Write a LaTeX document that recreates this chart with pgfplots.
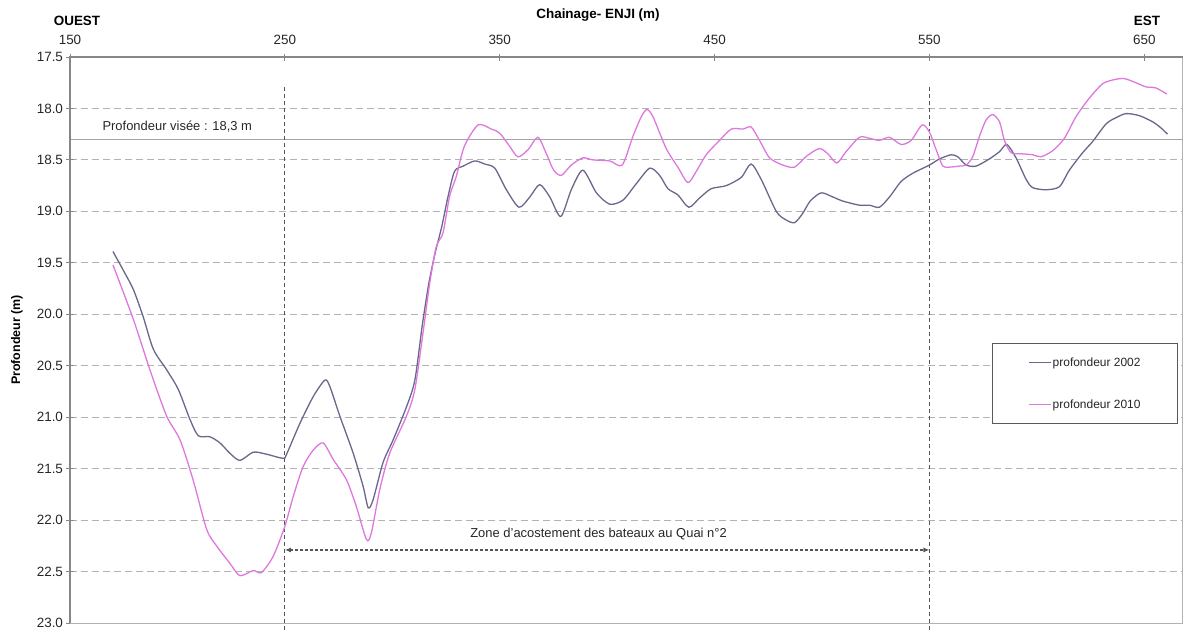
\documentclass[border=0pt]{standalone}
\usepackage{fontspec}
\setmainfont{Liberation Sans}
\usepackage{pgfplots}
\pgfplotsset{compat=1.18}
\usetikzlibrary{arrows.meta}

\definecolor{c2002}{RGB}{104,104,138}
\definecolor{c2010}{RGB}{222,120,222}
\definecolor{gridc}{RGB}{178,178,178}
\definecolor{axisc}{RGB}{135,135,135}
\definecolor{markc}{RGB}{85,85,85}

\begin{document}
\begin{tikzpicture}
\path[use as bounding box] (0,0) rectangle (1186bp,630bp);
\begin{axis}[
  at={(70bp,7bp)}, anchor=south west,
  scale only axis, width=1113bp, height=566bp,
  xmin=150, xmax=668, ymin=17.5, ymax=23, y dir=reverse,
  clip=false,
  xtick={150,250,350,450,550,650},
  ytick={17.5,18,...,23},
  xtick pos=right, xticklabel pos=right, ytick pos=left,
  tick align=center, major tick length=7bp,
  tick style={axisc, line width=1bp},
  axis line style={gridc, line width=1bp},
  ymajorgrids,
  major grid style={gridc, line width=1bp, dash pattern=on 7bp off 4bp},
  /pgf/number format/assume math mode=true,
  yticklabel style={/pgf/number format/.cd, fixed, fixed zerofill, precision=1},
  xticklabel style={yshift=5bp, /pgf/number format/.cd, fixed, precision=0},
  ticklabel style={font=\fontsize{13.5}{15}\selectfont, text=black!85},
  legend style={at={(axis description cs:0.9955,0.495)}, anchor=north east,
    draw=black!65, line width=1bp, fill=white,
    font=\fontsize{12}{14}\selectfont, text=black!85,
    inner xsep=36bp, inner ysep=13bp, row sep=30bp,
    nodes={inner sep=1bp}},
  legend cell align=left,
  legend image code/.code={\draw[#1] (0bp,0bp) -- (22bp,0bp);},
]

% target depth line
\addplot[black!35, line width=1bp, forget plot] coordinates {(150,18.3) (668,18.3)};

% boundaries of the berthing zone
\draw[markc, line width=1bp, dash pattern=on 4bp off 3bp] (axis cs:250,17.79) -- (axis cs:250,23.07);
\draw[markc, line width=1bp, dash pattern=on 4bp off 3bp] (axis cs:550,17.79) -- (axis cs:550,23.07);
\draw[markc, line width=1.2bp, dash pattern=on 3bp off 2bp,
  {Latex[length=6bp,width=5bp]}-{Latex[length=6bp,width=5bp]}]
  (axis cs:250,22.29) -- (axis cs:550,22.29);

\node[anchor=west, font=\fontsize{13}{15}\selectfont, text=black!85] at (axis cs:163.5,18.18) {Profondeur visée : 18,3 m};
\node[font=\fontsize{13}{15}\selectfont, text=black!85] at (axis cs:396,22.14) {Zone d'acostement des bateaux au Quai n°2};

\addplot[c2002, line width=1.3bp, smooth, tension=0.45] coordinates {
(170,19.39) (175,19.58) (179.5,19.76) (184,20.02) (188.8,20.34) (195,20.54)
(200.4,20.73) (205.8,21.02) (209.7,21.18) (215.1,21.19) (219.8,21.25)
(224.4,21.35) (229.1,21.42) (235.3,21.34) (241.5,21.36) (249.2,21.40)
(250.8,21.36) (257,21.06) (263.2,20.80) (268.6,20.64) (270.9,20.70)
(275.6,20.99) (281.8,21.35) (286.4,21.67) (288.8,21.88) (291.1,21.80)
(295.7,21.44) (300.4,21.22) (306.6,20.90) (310.5,20.64) (314,20.10)
(317,19.70) (320,19.40) (323,19.15) (326,18.85) (329,18.61) (333,18.56)
(338.4,18.51) (343,18.54) (347.7,18.58) (353.1,18.79) (359,18.96)
(364,18.86) (368.6,18.74) (373.3,18.86) (378.4,19.05) (383.3,18.79)
(388.7,18.60) (395,18.82) (401.2,18.93) (407.4,18.89) (413.6,18.73)
(419.8,18.58) (424.4,18.65) (428.3,18.78) (432.9,18.84) (438,18.96)
(443,18.87) (448.4,18.78) (455.4,18.75) (462.4,18.67) (467,18.54)
(471.7,18.69) (478.7,19.00) (483,19.08) (487.2,19.11) (491,19.02)
(494.5,18.90) (499.6,18.82) (505,18.86) (509.7,18.90) (517.4,18.94)
(522.1,18.94) (526.7,18.96) (531.4,18.86) (536.8,18.71) (542.2,18.63)
(550,18.55) (554.7,18.49) (560.1,18.45) (563.2,18.47) (567.1,18.55)
(571.7,18.56) (577.9,18.49) (582.6,18.42) (586,18.35) (590.3,18.48)
(595,18.69) (598.1,18.77) (604.3,18.79) (610.5,18.76) (615.1,18.60)
(621.3,18.43) (626,18.32) (632.2,18.15) (636.8,18.09) (641.5,18.05)
(647.7,18.07) (653.9,18.13) (657.8,18.19) (660.8,18.25)
};
\addlegendentry{profondeur 2002}

\addplot[c2010, line width=1.3bp, smooth, tension=0.45] coordinates {
(170,19.52) (179.5,20.05) (187.2,20.54) (195,20.99) (201.2,21.22)
(207.3,21.61) (213.6,22.09) (218.2,22.25) (224.4,22.42) (229.1,22.54)
(235.3,22.49) (239.1,22.51) (244.6,22.35) (250,22.06) (253.9,21.77)
(258.5,21.48) (263.2,21.32) (267.8,21.25) (272.5,21.41) (278.7,21.61)
(283.3,21.87) (288,22.19) (290.3,22.12) (294.2,21.70) (298.8,21.35)
(306.6,20.99) (310.5,20.73) (314.3,20.18) (317.4,19.70) (320.5,19.34)
(323.6,19.21) (326.7,18.85) (329.8,18.66) (333.5,18.37) (339.9,18.16)
(346.1,18.20) (350,18.24) (354.7,18.37) (358.5,18.47) (363.2,18.40)
(367.8,18.28) (371.7,18.44) (375.1,18.60) (378.7,18.65) (383.3,18.55)
(388.7,18.48) (393.4,18.50) (401.2,18.51) (407,18.55) (412,18.27)
(415.9,18.08) (418.5,18.01) (421.3,18.08) (427.5,18.39) (432.9,18.57)
(437.6,18.72) (441.5,18.61) (446.1,18.45) (452.3,18.31) (457.8,18.20)
(463.2,18.20) (467,18.18) (470.9,18.31) (475.6,18.48) (481.8,18.55)
(487.2,18.57) (493,18.46) (498.8,18.39) (502.7,18.44) (506.9,18.53)
(511.2,18.42) (517.4,18.28) (522.1,18.29) (526.7,18.31) (531.4,18.28)
(536.8,18.35) (541.5,18.31) (546.6,18.16) (550,18.23) (553.1,18.40)
(556.2,18.56) (559.3,18.57) (563.9,18.56) (567.1,18.55) (570.1,18.47)
(573.3,18.27) (576.4,18.11) (579.5,18.06) (582.6,18.13) (584.9,18.31)
(588,18.43) (592.6,18.44) (598.1,18.45) (601.9,18.47) (607.4,18.41)
(612.8,18.29) (618.2,18.08) (624.4,17.90) (630.6,17.76) (636,17.72)
(640.7,17.71) (646.1,17.75) (650.7,17.79) (655.3,17.80) (660.5,17.86)
};
\addlegendentry{profondeur 2010}

% darker left and top frame
\draw[axisc, line width=1.6bp] (axis description cs:0,0) -- (axis description cs:0,1) -- (axis description cs:1,1);
\end{axis}

\node[font=\bfseries\fontsize{13.5}{16}\selectfont] at (598bp,615bp) {Chainage- ENJI (m)};
\node[font=\bfseries\fontsize{13.5}{16}\selectfont] at (77bp,609bp) {OUEST};
\node[font=\bfseries\fontsize{13.5}{16}\selectfont] at (1147bp,609bp) {EST};
\node[font=\bfseries\fontsize{12.5}{15}\selectfont, rotate=90] at (17bp,290bp) {Profondeur (m)};
\end{tikzpicture}
\end{document}
